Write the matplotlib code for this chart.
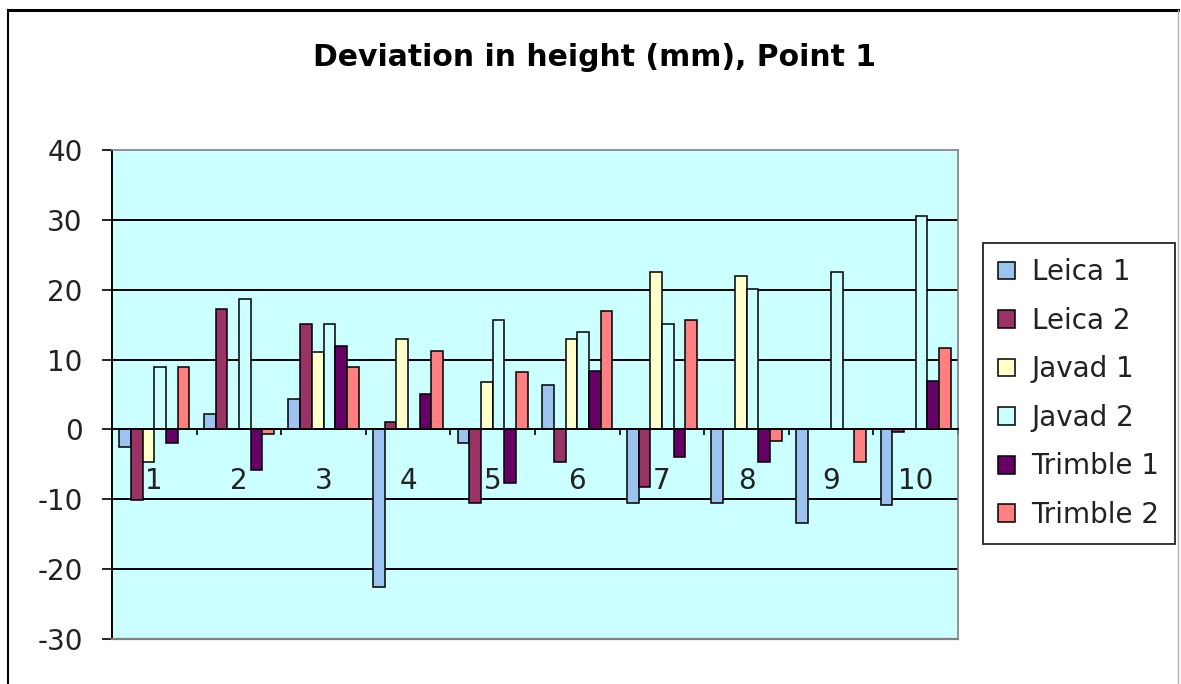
import matplotlib
matplotlib.use("Agg")
import matplotlib.pyplot as plt
import numpy as np
from matplotlib.lines import Line2D

# Height deviations (mm) per measurement session
categories = ["1", "2", "3", "4", "5", "6", "7", "8", "9", "10"]
series_names = ["Leica 1", "Leica 2", "Javad 1", "Javad 2", "Trimble 1", "Trimble 2"]
leica1 = [-2.5, 2.2, 4.3, -22.5, -2.0, 6.4, -10.5, -10.5, -13.4, -10.8]
leica2 = [-10.1, 17.2, 15.1, 1.1, -10.5, -4.7, -8.3, 0, 0, -0.4]
javad1 = [-4.7, 0, 11.1, 12.9, 6.8, 12.9, 22.6, 21.9, 0, 0]
javad2 = [8.9, 18.7, 15.1, 0, 15.7, 13.9, 15.1, 20.1, 22.6, 30.5]
trimble1 = [-1.9, -5.8, 11.9, 5.1, -7.7, 8.3, -4.0, -4.7, 0, 6.9]
trimble2 = [8.9, -0.7, 9.0, 11.2, 8.2, 16.9, 15.7, -1.7, -4.7, 11.7]
y_ticks = [-30, -20, -10, 0, 10, 20, 30, 40]

series = [leica1, leica2, javad1, javad2, trimble1, trimble2]
colors = ["#9DC3F0", "#993366", "#FFFFCC", "#CCFFFF", "#660066", "#FF8080"]

W, H = 1181, 684
fig = plt.figure(figsize=(W / 100, H / 100), dpi=100)
fig.patch.set_facecolor("white")

ax = fig.add_axes([112 / W, 1 - 639 / H, (958 - 112) / W, (639 - 150) / H])
ax.set_facecolor("#CCFFFF")

font = "DejaVu Sans"
x = np.arange(len(categories))
bw = 0.138
for k, (vals, col, name) in enumerate(zip(series, colors, series_names)):
    ax.bar(x + (k - 2.5) * bw, vals, width=bw, color=col, edgecolor="black",
           linewidth=1.1, label=name, zorder=3)

ax.set_xlim(-0.5, len(categories) - 0.5)
ax.set_ylim(-30, 40)

# horizontal gridlines
for yv in [-20, -10, 10, 20, 30]:
    ax.axhline(yv, color="black", linewidth=1.4, zorder=1)

# spines: y axis black, horizontal axis at zero, grey plot border
ax.spines["left"].set_color("black")
ax.spines["left"].set_linewidth(1.4)
ax.spines["top"].set_color("#808080")
ax.spines["right"].set_color("#808080")
ax.spines["top"].set_linewidth(1.2)
ax.spines["right"].set_linewidth(1.2)
ax.spines["bottom"].set_position(("data", 0))
ax.spines["bottom"].set_color("black")
ax.spines["bottom"].set_linewidth(1.4)
ax.spines["bottom"].set_zorder(4)
ax.plot([0, 1], [0, 0], transform=ax.transAxes, color="#808080",
        linewidth=1.6, clip_on=False, zorder=5)

ax.set_yticks(y_ticks)
ax.set_yticklabels([str(v) for v in y_ticks], fontsize=20, family=font, color="#222222")
ax.tick_params(axis="y", direction="out", length=7, width=1.2, pad=14)

ax.set_xticks(x)
ax.set_xticklabels(categories, fontsize=20, family=font, color="#222222")
ax.tick_params(axis="x", which="major", length=0, pad=27)
ax.set_xticks(np.arange(len(categories) + 1) - 0.5, minor=True)
ax.tick_params(axis="x", which="minor", direction="out", length=4.5, width=1.2)

fig.text(595 / W, 1 - 57 / H, "Deviation in height (mm), Point 1",
         ha="center", va="center", fontsize=21.5, fontweight="bold", family=font)

leg = fig.legend(loc="upper left", bbox_to_anchor=(983 / W, 1 - 243 / H),
                 prop={"family": font, "size": 20}, frameon=True, fancybox=False,
                 handlelength=0.6, handleheight=0.6, handletextpad=0.6,
                 labelspacing=0.74, borderpad=0.55, borderaxespad=0)
leg.get_frame().set_edgecolor("black")
leg.get_frame().set_linewidth(1.4)
for t in leg.get_texts():
    t.set_color("#222222")

# outer chart frame
fig.add_artist(Line2D([8 / W, 1178 / W], [1 - 10 / H, 1 - 10 / H],
                      transform=fig.transFigure, color="black", linewidth=2.2))
fig.add_artist(Line2D([8 / W, 8 / W], [0, 1 - 10 / H],
                      transform=fig.transFigure, color="black", linewidth=1.5))
fig.add_artist(Line2D([1178 / W, 1178 / W], [0, 1 - 10 / H],
                      transform=fig.transFigure, color="#b0b0b0", linewidth=1.0))

fig.savefig("out.png", dpi=100)
